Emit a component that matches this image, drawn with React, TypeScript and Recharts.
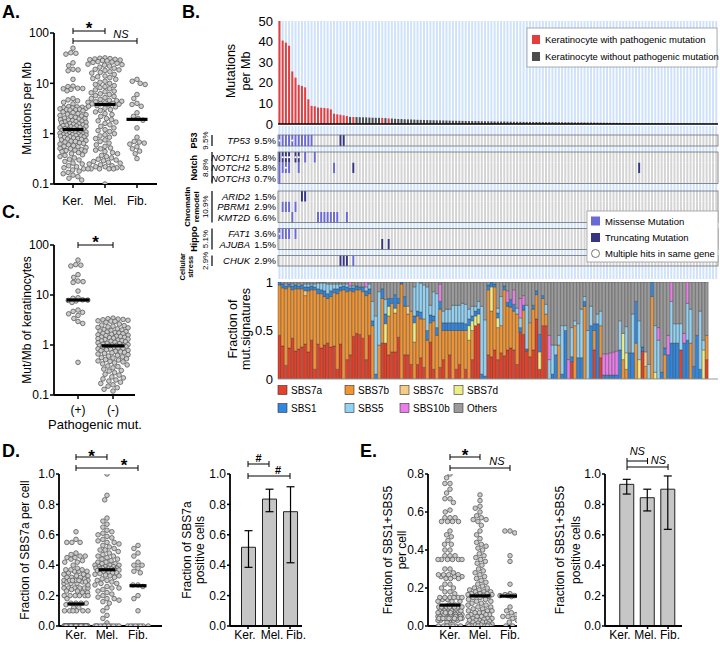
import React from 'react';
import { BarChart, Bar, XAxis, YAxis, Cell, ScatterChart, Scatter, ReferenceLine, ReferenceDot, ErrorBar } from 'recharts';

const FONT = "'Liberation Sans', Arial, Helvetica, sans-serif";

// ---------------- DATA ----------------
const cellTypes = ['Ker.', 'Mel.', 'Fib.'];
const pathogenicCats = ['(+)', '(-)'];

// Mutations per Mb of keratinocytes, in panel-B column order (sorted)
const kerMutPerMb = [
  50, 40.5, 39.5, 38, 25.5, 22.5, 19, 18.5, 17.8, 12,
  8.8, 8.6, 8, 7.9, 7.8, 7.6, 7.1, 5, 4.7, 4.5,
  4.2, 3.9, 3.45, 3.4, 3.35, 3.3, 3.25, 3.2, 3.12, 3.05,
  3.0, 2.97, 2.95, 2.85, 2.7, 2.62, 2.5, 2.44, 2.38, 2.3,
  2.24, 2.2, 2.1, 2.04, 2.0, 1.95, 1.9, 1.86, 1.82, 1.78,
  1.74, 1.71, 1.68, 1.64, 1.6, 1.57, 1.54, 1.5, 1.47, 1.44,
  1.42, 1.4, 1.37, 1.34, 1.31, 1.29, 1.26, 1.23, 1.21, 1.19,
  1.16, 1.13, 1.11, 1.08, 1.06, 1.04, 1.02, 1.0, 0.99, 0.98,
  0.96, 0.95, 0.94, 0.93, 0.92, 0.9, 0.89, 0.87, 0.86, 0.84,
  0.82, 0.8, 0.78, 0.77, 0.75, 0.73, 0.71, 0.7, 0.68, 0.66,
  0.64, 0.62, 0.6, 0.58, 0.56, 0.55, 0.53, 0.51, 0.5, 0.48,
  0.47, 0.46, 0.45, 0.44, 0.42, 0.4, 0.38, 0.37, 0.35, 0.33,
  0.31, 0.3, 0.28, 0.26, 0.25, 0.23, 0.22, 0.21, 0.2, 0.19,
  0.18, 0.17, 0.16, 0.15, 0.14, 0.13, 0.12,
];
const melMutPerMb = [
  32, 31.5, 31, 30.5, 30, 29.5, 29, 28.5, 28, 27, 26.5, 26, 25, 24, 23.5, 23, 22, 21, 20, 19,
  18.5, 18, 17, 16.5, 16, 15, 14, 13.5, 13, 12.5, 12, 11, 10.5, 10, 9.5, 9, 8.6, 8.2, 7.8, 7.4,
  7, 6.8, 6.5, 6.2, 6, 5.7, 5.5, 5.2, 5, 4.8, 4.6, 4.5, 4.4, 4.3, 4.2, 4.1, 4.0, 3.95, 3.9, 3.85,
  3.75, 3.6, 3.5, 3.4, 3.2, 3.0, 2.9, 2.7, 2.5, 2.4, 2.2, 2.0, 1.9, 1.8, 1.7, 1.6, 1.5, 1.4, 1.3, 1.2,
  1.15, 1.1, 1.0, 0.95, 0.9, 0.85, 0.8, 0.75, 0.7, 0.65, 0.6, 0.56, 0.52, 0.5, 0.47, 0.44, 0.42, 0.4, 0.37, 0.35,
  0.33, 0.31, 0.3, 0.29, 0.28, 0.27, 0.26, 0.25, 0.24, 0.23, 0.22, 0.22, 0.21, 0.21, 0.2, 0.2, 0.2, 0.2, 0.2, 0.1,
];
const fibMutPerMb = [12, 11, 10, 9.5, 6, 5, 4, 3.8, 3.5, 2.6, 2.2, 2.0, 1.85, 1.3, 0.85, 0.7, 0.68, 0.65, 0.62, 0.55, 0.5, 0.45, 0.4, 0.32];

// Oncoprint: mutated column indices per gene
const genes = ['TP53', 'NOTCH1', 'NOTCH2', 'NOTCH3', 'ARID2', 'PBRM1', 'KMT2D', 'FAT1', 'AJUBA', 'CHUK'];
const genePct = ['9.5%', '5.8%', '5.8%', '0.7%', '1.5%', '2.9%', '6.6%', '3.6%', '1.5%', '2.9%'];
const missenseCols = [
  [0, 1, 2, 3, 4, 5, 6, 7, 8, 9, 10], [8, 11], [0, 1, 2, 3, 6, 17], [0], [], [1, 2, 3, 5],
  [4, 12, 13, 14, 15, 16, 17, 18, 21], [0, 1, 2, 3, 5], [], [23],
];
const truncatingCols = [[19, 20], [0, 1, 2, 3, 5, 6], [23, 112], [], [7, 8], [], [], [], [32, 34], [19, 20, 21]];
const multiHitCols = [[0, 4], [1, 2, 3, 5, 6], [2], [], [], [], [], [0], [], []];
const pathways = ['P53', 'Notch', 'Chromatin remodel', 'Hippo', 'Cellular stress'];
const pathwayPct = ['9.5%', '8.8%', '10.9%', '5.1%', '2.9%'];
const pathwayGenes = [['TP53'], ['NOTCH1', 'NOTCH2', 'NOTCH3'], ['ARID2', 'PBRM1', 'KMT2D'], ['FAT1', 'AJUBA'], ['CHUK']];

// Mutational signature fractions per keratinocyte (panel-B column order)
const sigNames = ['SBS7a', 'SBS7b', 'SBS7c', 'SBS7d', 'SBS1', 'SBS5', 'SBS10b', 'Others'];
const sbs7a = [
  .45, .34, .14, .32, .42, .29, .31, .33, .36, .28, .40, .10, .36, .32, .35, .37, .33, .34, .10, .36,
  0, .20, .25, .44, .47, .46, .42, .20, .45, 0, 0, 0, .37, .37, .25, .28, .28, .43, 0, .25,
  .25, .15, 0, .15, .22, .12, 0, .38, .10, 0, .12, .20, 0, .25, 0, .10, .15, 0, .10, 0,
  .20, .55, .57, 0, 0, .25, .23, .30, .20, .27, .24, .30, .32, .30, .15, .48, .46, .29, .23, .30,
  .62, .10, .55, .55, 0, 0, 0, 0, 0, 0, 0, .18, 0, 0, 0, 0, 0, 0, .30, 0,
  .22, 0, 0, 0, 0, 0, 0, 0, 0, 0, 0, 0, 0, .29, 0, 0, 0, 0, 0, 0,
  0, 0, 0, 0, 0, .30, 0, 0, 0, 0, 0, 0, 0, .20,
];
const sbs7b = [
  .52, .60, .79, .63, .50, .64, .62, .60, .50, .63, .52, .82, .52, .56, .50, .46, .52, .55, .78, .55,
  .92, .70, .66, .46, .45, .46, .48, .66, .43, .55, 0, .35, .46, 0, .40, .50, .40, .35, .98, .50,
  .42, .55, .38, .50, .40, .50, .40, .20, .50, .45, .60, .30, .50, .25, .50, .40, .35, .50, .40, .40,
  .30, 0, 0, 0, 0, .67, .47, .65, .33, .28, .68, .45, .42, .40, .52, 0, .25, 0, .35, .42,
  .25, 0, .28, .12, 0, 0, 0, .35, 0, 0, 0, 0, .55, 0, 0, .75, 0, 0, .20, 0,
  .33, 0, 0, 0, 0, 0, 0, .20, .10, 0, 0, .37, 0, 0, .13, 0, .85, 0, 0, 0,
  .25, 0, 0, 0, 0, 0, 0, 0, .37, 0, 0, 0, 0, .25,
];
const sbs7c = [
  0, 0, 0, 0, 0, 0, 0, 0, .05, 0, 0, 0, 0, 0, 0, 0, 0, 0, 0, 0,
  0, 0, 0, 0, 0, 0, 0, 0, 0, 0, 0, 0, 0, 0, 0, 0, 0, 0, 0, 0,
  .08, 0, 0, 0, 0, 0, 0, 0, 0, 0, 0, 0, 0, 0, 0, 0, 0, 0, 0, 0,
  0, 0, 0, 0, 0, 0, 0, 0, 0, 0, 0, 0, 0, 0, 0, 0, 0, 0, 0, 0,
  0, 0, 0, 0, 0, 0, 0, 0, 0, 0, 0, 0, 0, 0, 0, 0, 0, 0, 0, 0,
  0, 0, 0, 0, 0, 0, 0, 0, 0, 0, 0, 0, 0, 0, .15, 0, 0, 0, 0, 0,
  0, 0, 0, 0, 0, 0, 0, 0, 0, 0, 0, 0, 0, 0,
];
const sbs7d = [
  0, 0, 0, 0, 0, 0, 0, 0, 0, 0, 0, 0, 0, 0, 0, 0, 0, 0, 0, 0,
  0, 0, 0, 0, 0, 0, 0, 0, 0, 0, 0, 0, 0, .20, .10, 0, .05, 0, 0, 0,
  0, 0, .20, 0, 0, 0, 0, 0, 0, 0, 0, 0, 0, 0, 0, 0, 0, 0, 0, .15,
  .10, .10, .10, 0, 0, 0, .25, 0, .10, 0, 0, 0, 0, 0, 0, 0, 0, 0, 0, 0,
  0, .18, 0, 0, 0, 0, 0, 0, 0, 0, 0, 0, 0, 0, 0, 0, 0, 0, 0, 0,
  0, 0, 0, 0, 0, 0, 0, .27, .17, 0, 0, 0, .20, 0, 0, 0, 0, .07, 0, 0,
  0, 0, 0, 0, 0, 0, 0, 0, 0, 0, 0, 0, .30, 0,
];
const sbs1 = [
  .03, .04, .03, .03, .04, .04, .03, .04, .04, .04, .04, .03, .05, .04, .06, .05, .06, .04, .05, .04,
  .04, .05, .03, .04, .04, .03, .05, .05, .05, .05, .05, 0, .10, .10, .08, .05, .14, .05, .02, .10,
  0, 0, .07, .05, .07, 0, .10, .08, .05, .08, .08, .08, .08, .08, .08, .08, .08, .08, .07, .07,
  .05, .05, .05, .05, .03, .05, .05, .03, .05, 0, .04, .04, .08, .07, 0, .05, .05, .02, 0, .04,
  .04, .18, .03, 0, 0, .05, .25, 0, .05, .50, 0, .05, 0, .22, .22, .05, 0, .55, .07, .57,
  0, .04, .04, .04, .04, .04, .30, 0, 0, .27, .27, .43, 0, .04, 0, 0, .15, 0, 0, .07,
  .07, .25, .37, .37, .37, 0, .37, .40, 0, .13, .45, .10, 0, 0,
];
const sbs5 = [
  0, 0, .02, 0, .02, 0, .02, 0, .03, .03, .02, .03, .06, .07, .08, .10, .07, .05, .05, .03,
  .02, .03, .02, .02, 0, 0, 0, .04, .05, .20, .60, .55, 0, .15, 0, 0, 0, 0, 0, 0,
  0, 0, .30, .30, .30, .35, .45, .10, .25, .35, 0, .12, .14, .14, .18, .18, .18, .20, .20, .10,
  .10, .05, .08, .70, .58, 0, 0, 0, .05, .30, 0, 0, 0, 0, .06, .10, 0, .45, 0, 0,
  0, 0, 0, .10, .20, .30, .10, .10, .50, .05, 0, .30, .05, .35, .50, .05, .50, .20, 0, .10,
  .15, 0, 0, 0, 0, 0, .30, 0, .27, 0, .40, 0, .40, 0, 0, .15, 0, .48, .40, 0,
  0, 0, .43, .20, .20, .27, 0, .38, .35, 0, 0, .60, .10, 0,
];
const sbs10b = [
  0, 0, 0, 0, 0, 0, 0, 0, 0, 0, 0, 0, 0, 0, 0, 0, 0, 0, 0, 0,
  0, 0, .04, 0, 0, 0, 0, .05, 0, 0, 0, 0, 0, 0, 0, 0, 0, 0, 0, 0,
  0, 0, 0, 0, 0, 0, 0, 0, 0, 0, .18, 0, 0, 0, 0, 0, 0, 0, 0, 0,
  0, 0, 0, 0, 0, 0, 0, 0, 0, 0, 0, .12, 0, .15, 0, .20, .10, 0, 0, 0,
  0, 0, 0, 0, .25, 0, 0, 0, 0, 0, .20, 0, 0, 0, 0, 0, 0, 0, 0, 0,
  0, .22, .22, .23, .24, .25, 0, 0, 0, 0, 0, 0, 0, 0, 0, 0, 0, 0, .13, 0,
  0, .20, .20, 0, 0, 0, .10, .22, 0, 0, 0, 0, 0, 0,
];

// Panel D / E per-cell fractions for melanocytes and fibroblasts
const sbs7aMel = [
  1.0, 0.86, 0.83, 0.71, 0.69, 0.67, 0.65, 0.63, 0.62, 0.61, 0.6, 0.59, 0.58, 0.57, 0.56, 0.55, 0.55, 0.54, 0.53, 0.52,
  0.51, 0.5, 0.5, 0.49, 0.48, 0.47, 0.46, 0.46, 0.45, 0.44, 0.44, 0.43, 0.42, 0.42, 0.41, 0.41, 0.4, 0.4, 0.4, 0.39,
  0.39, 0.39, 0.38, 0.38, 0.38, 0.38, 0.375, 0.375, 0.372, 0.372,
  0.368, 0.365, 0.36, 0.355, 0.35, 0.35, 0.345, 0.34, 0.335, 0.33, 0.33, 0.32, 0.31, 0.3, 0.3, 0.29, 0.28, 0.28, 0.27, 0.26,
  0.25, 0.25, 0.24, 0.23, 0.22, 0.21, 0.2, 0.19, 0.18, 0.18, 0.17, 0.16, 0.15, 0.12, 0.1, 0.07, 0.05, 0.02,
  0, 0, 0, 0, 0, 0, 0, 0, 0, 0, 0, 0,
];
const sbs7aFib = [0.53, 0.51, 0.48, 0.46, 0.42, 0.4, 0.4, 0.38, 0.36, 0.35, 0.27, 0.27, 0.26, 0.2, 0.18, 0.1, 0, 0, 0, 0, 0, 0, 0, 0];
const sbs15Mel = [
  0.69, 0.66, 0.63, 0.62, 0.6, 0.58, 0.57, 0.56, 0.56, 0.55, 0.53, 0.5, 0.48, 0.46, 0.44, 0.43, 0.42, 0.41, 0.4, 0.38,
  0.37, 0.36, 0.35, 0.34, 0.33, 0.32, 0.3, 0.29, 0.28, 0.27, 0.26, 0.25, 0.24, 0.23, 0.22, 0.21, 0.2, 0.2, 0.19, 0.19,
  0.18, 0.18, 0.18, 0.17, 0.17, 0.17, 0.165, 0.165, 0.162, 0.162,
  0.155, 0.15, 0.15, 0.14, 0.14, 0.13, 0.13, 0.12, 0.12, 0.11, 0.11, 0.1, 0.1, 0.09, 0.09, 0.08, 0.08, 0.08, 0.07, 0.07,
  0.07, 0.06, 0.06, 0.06, 0.05, 0.05, 0.05, 0.04, 0.04, 0.04, 0.035, 0.03, 0.03, 0.03, 0.025, 0.02, 0.02, 0.02, 0.015, 0.01,
  0.01, 0.01, 0.005, 0.005, 0, 0, 0, 0, 0, 0,
];
const sbs15Fib = [0.5, 0.5, 0.49, 0.37, 0.34, 0.22, 0.17, 0.165, 0.16, 0.16, 0.16, 0.16, 0.155, 0.1, 0.08, 0.07, 0.06, 0.05, 0.05, 0.04, 0.03, 0.02, 0, 0];

// Fraction of signature-positive cells (estimate, lower CI, upper CI)
const sbs7aPos = [0.518, 0.835, 0.752];
const sbs7aPosLow = [0.386, 0.752, 0.416];
const sbs7aPosHigh = [0.627, 0.90, 0.916];
const sbs15Pos = [0.932, 0.844, 0.90];
const sbs15PosLow = [0.868, 0.757, 0.636];
const sbs15PosHigh = [0.965, 0.90, 0.987];

// ---------------- STYLE / LAYOUT ----------------
const C_RED = '#e33d3d';
const C_DARK = '#4d4d4d';
const C_LBLUE = '#cfe2fb';
const C_CELL = '#d4d4d4';
const C_MIS = '#6a6ad6';
const C_TRUNC = '#363680';
const sigColors = ['#e4412a', '#ef9535', '#f6cb86', '#eded88', '#2f87df', '#93d2f2', '#e97ee8', '#9b9b9b'];

const NCOL = kerMutPerMb.length;
const PLOT_L = 278, PLOT_W = 440;

const geneStatus = genes.map((_, g) => {
  const s = new Array(NCOL).fill(0);
  missenseCols[g].forEach((c) => (s[c] = 1));
  truncatingCols[g].forEach((c) => (s[c] = 2));
  return s;
});
const pathogenic = new Array(NCOL).fill(false).map((_, i) => geneStatus.some((s) => s[i] > 0));

const ONCO_TOP = 126;
const oncoLayout = [
  { k: 'gap0', h: 9 }, { k: 'TP53', h: 11 }, { k: 'gap1', h: 6 },
  { k: 'NOTCH1', h: 10.5 }, { k: 'NOTCH2', h: 10.5 }, { k: 'NOTCH3', h: 10.5 }, { k: 'gap2', h: 7.5 },
  { k: 'ARID2', h: 10.5 }, { k: 'PBRM1', h: 10.5 }, { k: 'KMT2D', h: 10.5 }, { k: 'gap3', h: 6 },
  { k: 'FAT1', h: 10.5 }, { k: 'AJUBA', h: 10.5 }, { k: 'gap4', h: 6 },
  { k: 'CHUK', h: 10.5 }, { k: 'gap5', h: 13 },
];
const ONCO_H = oncoLayout.reduce((a, s) => a + s.h, 0);
const rowPos: Record<string, { top: number; bot: number; mid: number }> = {};
{
  let y = ONCO_TOP;
  oncoLayout.forEach((s) => { rowPos[s.k] = { top: y, bot: y + s.h, mid: y + s.h / 2 }; y += s.h; });
}

type Cfg = {
  left: number; top: number; w: number; h: number; xd: [number, number]; yd: [number, number];
  log?: boolean; yticks: number[]; yfmt: (v: number) => string; cats: string[];
  yw: number; mt: number; mr: number; xh: number; ytS: number; ytM: number; xtS: number; xtM: number; xdx?: number[];
};

function valToPy(c: Cfg, v: number) {
  let t;
  if (c.log) {
    const a = Math.log10(c.yd[0]), b = Math.log10(c.yd[1]);
    t = (b - Math.log10(Math.max(v, c.yd[0]))) / (b - a);
  } else t = (c.yd[1] - v) / (c.yd[1] - c.yd[0]);
  return c.top + t * c.h;
}
function pyToVal(c: Cfg, py: number) {
  const t = (py - c.top) / c.h;
  if (c.log) {
    const a = Math.log10(c.yd[0]), b = Math.log10(c.yd[1]);
    return Math.pow(10, b - t * (b - a));
  }
  return c.yd[1] - t * (c.yd[1] - c.yd[0]);
}
const ppu = (c: Cfg) => c.w / (c.xd[1] - c.xd[0]);
const pxToVal = (c: Cfg, px: number) => c.xd[0] + (px - c.left) / ppu(c);

function median(a: number[]) {
  const s = [...a].sort((x, y) => x - y);
  const n = s.length;
  return n % 2 ? s[(n - 1) / 2] : (s[n / 2 - 1] + s[n / 2]) / 2;
}

// beeswarm layout in pixel space (layout only, derived from the values)
function swarm(values: number[], c: Cfg, d: number, maxHalf: number) {
  const order = values.map((_, i) => i).sort((a, b) => values[b] - values[a]);
  const placed: { x: number; y: number }[] = [];
  const off = new Array(values.length).fill(0);
  for (const i of order) {
    const y = valToPy(c, values[i]);
    const near = placed.filter((p) => Math.abs(p.y - y) < d);
    const cands = [0];
    near.forEach((p) => {
      const dx = Math.sqrt(Math.max(0, d * d - (p.y - y) ** 2));
      cands.push(p.x + dx, p.x - dx);
    });
    cands.sort((a, b) => Math.abs(a) - Math.abs(b) || a - b);
    let best: number | null = null;
    for (const cx of cands) {
      if (Math.abs(cx) > maxHalf + 0.01) break;
      if (near.every((p) => (p.x - cx) ** 2 + (p.y - y) ** 2 >= d * d - 0.05)) { best = cx; break; }
    }
    if (best === null) {
      let bs = -1; best = 0;
      for (let k = -maxHalf; k <= maxHalf + 1e-6; k += 0.5) {
        const sc = Math.min(...near.map((p) => (p.x - k) ** 2 + (p.y - y) ** 2));
        if (sc > bs + 1e-6 || (Math.abs(sc - bs) < 1e-6 && Math.abs(k) < Math.abs(best))) { bs = sc; best = k; }
      }
    }
    placed.push({ x: best, y });
    off[i] = best;
  }
  return off;
}

type Br = { x1: number; x2: number; py: number; label: string; lx?: number; ly: number; size: number; italic?: boolean; bold?: boolean };
function bracketEls(c: Cfg, b: Br, k: string) {
  const y = pyToVal(c, b.py), yU = pyToVal(c, b.py - 3), yL = pyToVal(c, b.py + 3);
  return [
    <ReferenceLine key={k + 'h'} segment={[{ x: b.x1, y }, { x: b.x2, y }]} ifOverflow="visible" stroke="#000" strokeWidth={1} />,
    <ReferenceLine key={k + 'l'} segment={[{ x: b.x1, y: yU }, { x: b.x1, y: yL }]} ifOverflow="visible" stroke="#000" strokeWidth={1} />,
    <ReferenceLine key={k + 'r'} segment={[{ x: b.x2, y: yU }, { x: b.x2, y: yL }]} ifOverflow="visible" stroke="#000" strokeWidth={1} />,
    <ReferenceDot key={k + 't'} x={b.lx ?? (b.x1 + b.x2) / 2} y={pyToVal(c, b.ly)} r={0} ifOverflow="visible" fill="none" stroke="none"
      label={{ value: b.label, position: 'center', fontSize: b.size, fill: '#000', fontFamily: FONT, fontStyle: b.italic ? 'italic' : 'normal', fontWeight: b.bold ? 'bold' : 'normal' }} />,
  ];
}

const tickStyle = { fontSize: 12, fill: '#000', fontFamily: FONT };
const axisLine = { stroke: '#000', strokeWidth: 1.8 };
const tickLine = { stroke: '#000', strokeWidth: 1.5 };

function xAxisFor(c: Cfg) {
  const tick = c.xdx
    ? (p: any) => (
        <text x={p.x + (c.xdx as number[])[p.index]} y={p.y} dy="0.71em" textAnchor="middle" fontSize={12} fontFamily={FONT} fill="#000">
          {c.cats[Math.round(p.payload.value) - 1]}
        </text>
      )
    : tickStyle;
  return (
    <XAxis type="number" dataKey="x" domain={c.xd} allowDataOverflow ticks={c.cats.map((_, i) => i + 1)} interval={0}
      tickFormatter={(v: number) => c.cats[Math.round(v) - 1]} height={c.xh} axisLine={axisLine} tickLine={tickLine}
      tickSize={c.xtS} tickMargin={c.xtM} tick={tick} />
  );
}
function yAxisFor(c: Cfg) {
  return (
    <YAxis type="number" dataKey="y" domain={c.yd} allowDataOverflow scale={c.log ? 'log' : 'linear'} ticks={c.yticks} interval={0}
      tickFormatter={c.yfmt} width={c.yw} axisLine={axisLine} tickLine={tickLine} tickSize={c.ytS} tickMargin={c.ytM} tick={tickStyle} />
  );
}

const dotShape = (p: any) => <circle cx={p.cx} cy={p.cy} r={2.3} fill="#cbcbcb" stroke="#5a5a5a" strokeWidth={0.8} />;

function ScatterPanel({ c, groups, medHalfPx, maxHalf, brackets }: { c: Cfg; groups: number[][]; medHalfPx: number; maxHalf: number[]; brackets: Br[] }) {
  const u = ppu(c);
  const pts: { x: number; y: number }[] = [];
  groups.forEach((vals, g) => {
    const off = swarm(vals, c, 5.1, maxHalf[g]);
    vals.forEach((v, i) => pts.push({ x: g + 1 + off[i] / u, y: v }));
  });
  const meds = groups.map((vals, g) => ({ x: g + 1, y: median(vals) }));
  const medShape = (p: any) => (
    <line x1={p.cx - medHalfPx} x2={p.cx + medHalfPx} y1={p.cy} y2={p.cy} stroke="#000" strokeWidth={3.2} />
  );
  return (
    <div style={{ position: 'absolute', left: c.left - c.yw, top: c.top - c.mt }}>
      <ScatterChart width={c.yw + c.w + c.mr} height={c.mt + c.h + c.xh} margin={{ top: c.mt, right: c.mr, bottom: 0, left: 0 }}>
        {xAxisFor(c)}
        {yAxisFor(c)}
        <Scatter data={pts} isAnimationActive={false} shape={dotShape} />
        <Scatter data={meds} isAnimationActive={false} shape={medShape} />
        {brackets.flatMap((b, i) => bracketEls(c, b, 'b' + i))}
      </ScatterChart>
    </div>
  );
}

function BarPanel({ c, vals, lo, hi, brackets }: { c: Cfg; vals: number[]; lo: number[]; hi: number[]; brackets: Br[] }) {
  const data = vals.map((v, i) => ({ x: i + 1, y: v, err: [v - lo[i], hi[i] - v] }));
  return (
    <div style={{ position: 'absolute', left: c.left - c.yw, top: c.top - c.mt }}>
      <BarChart width={c.yw + c.w + c.mr} height={c.mt + c.h + c.xh} data={data} margin={{ top: c.mt, right: c.mr, bottom: 0, left: 0 }}>
        {xAxisFor(c)}
        {yAxisFor(c)}
        <Bar dataKey="y" fill="#c6c6c6" stroke="#222" strokeWidth={1} barSize={14} isAnimationActive={false}>
          <ErrorBar dataKey="err" width={4} stroke="#000" strokeWidth={1.2} direction="y" />
        </Bar>
        {brackets.flatMap((b, i) => bracketEls(c, b, 'b' + i))}
      </BarChart>
    </div>
  );
}

const f1 = (v: number) => v.toFixed(1);
const logFmt = (v: number) => String(v);

const cfgA: Cfg = { left: 54, top: 33, w: 103, h: 151, xd: [0.406, 3.625], yd: [0.1, 100], log: true, yticks: [0.1, 1, 10, 100], yfmt: logFmt, cats: cellTypes, yw: 54, mt: 33, mr: 4, xh: 30, ytS: 4, ytM: 1, xtS: 4, xtM: 8 };
const cfgC: Cfg = { left: 54, top: 245, w: 81, h: 150, xd: [0.314, 2.628], yd: [0.1, 100], log: true, yticks: [0.1, 1, 10, 100], yfmt: logFmt, cats: pathogenicCats, yw: 54, mt: 22, mr: 4, xh: 26, ytS: 4, ytM: 1, xtS: 4, xtM: 6 };
const cfgD1: Cfg = { left: 59, top: 474, w: 103, h: 152, xd: [0.452, 3.774], yd: [0, 1], yticks: [0, 0.2, 0.4, 0.6, 0.8, 1.0], yfmt: f1, cats: cellTypes, yw: 50, mt: 30, mr: 4, xh: 20, ytS: 3, ytM: 1, xtS: 3, xtM: 1 };
const cfgD2: Cfg = { left: 230, top: 474, w: 72, h: 152, xd: [0.143, 3.57], yd: [0, 1], yticks: [0, 0.2, 0.4, 0.6, 0.8, 1.0], yfmt: f1, cats: cellTypes, yw: 30, mt: 30, mr: 12, xh: 20, ytS: 3, ytM: 1, xtS: 3, xtM: 1, xdx: [-3, 3, 6] };
const cfgE1: Cfg = { left: 428, top: 474, w: 89, h: 152, xd: [0.267, 3.233], yd: [0, 0.8], yticks: [0, 0.2, 0.4, 0.6, 0.8], yfmt: f1, cats: cellTypes, yw: 30, mt: 30, mr: 4, xh: 20, ytS: 3, ytM: 1, xtS: 3, xtM: 1 };
const cfgE2: Cfg = { left: 605, top: 474, w: 77, h: 152, xd: [-0.073, 3.68], yd: [0, 1], yticks: [0, 0.2, 0.4, 0.6, 0.8, 1.0], yfmt: f1, cats: cellTypes, yw: 30, mt: 30, mr: 12, xh: 20, ytS: 3, ytM: 1, xtS: 3, xtM: 1, xdx: [-7, -2, 2] };

const kerSBS7a = sbs7a;
const kerSBS15 = sbs1.map((v, i) => +(v + sbs5[i]).toFixed(2));
const cPlus = kerMutPerMb.filter((_, i) => pathogenic[i]);
const cMinus = kerMutPerMb.filter((_, i) => !pathogenic[i]);

// ---------------- PANEL B ----------------
const topData = kerMutPerMb.map((v, i) => ({ i, v }));
const oncoData = kerMutPerMb.map((_, i) => {
  const o: any = { i };
  oncoLayout.forEach((s) => (o[s.k] = s.h));
  return o;
});
const sigArrays = [sbs7a, sbs7b, sbs7c, sbs7d, sbs1, sbs5, sbs10b];
const sigData = kerMutPerMb.map((_, i) => {
  const o: any = { i };
  if (i < sbs7a.length) {
    let s = 0;
    sigArrays.forEach((arr, k) => { o[sigNames[k]] = arr[i]; s += arr[i]; });
    o.Others = Math.max(0, +(1 - s).toFixed(3));
  }
  return o;
});

const makeOncoShape = (key: string) => (p: any) => {
  const g = genes.indexOf(key);
  const col = p.payload && p.payload.i !== undefined ? p.payload.i : p.index;
  let fill = C_LBLUE;
  let multi = false;
  if (g >= 0) {
    const st = geneStatus[g][col];
    fill = st === 1 ? C_MIS : st === 2 ? C_TRUNC : C_CELL;
    multi = multiHitCols[g].includes(col);
  }
  return (
    <g>
      <rect x={p.x} y={p.y} width={p.width} height={p.height} fill={fill} />
      {multi ? <circle cx={p.x + p.width / 2} cy={p.y + p.height / 2} r={1.1} fill="#fff" /> : null}
    </g>
  );
};

function PanelB() {
  const bTick = { fontSize: 13, fill: '#000', fontFamily: FONT };
  const M = 9;
  return (
    <>
      <div style={{ position: 'absolute', left: PLOT_L - 30, top: 21 - M }}>
        <BarChart width={30 + PLOT_W} height={M + 103 + M} data={topData} margin={{ top: M, right: 0, bottom: 0, left: 0 }} barCategoryGap="14%">
          <XAxis dataKey="i" type="category" tick={false} tickLine={false} height={M} axisLine={{ stroke: '#000', strokeWidth: 1.5 }} />
          <YAxis type="number" domain={[0, 50]} allowDataOverflow ticks={[0, 10, 20, 30, 40, 50]} interval={0} width={30} axisLine={false} tickLine={false} tickSize={3} tickMargin={2} tick={bTick} />
          <Bar dataKey="v" background={{ fill: C_LBLUE }} isAnimationActive={false}>
            {topData.map((d) => <Cell key={d.i} fill={pathogenic[d.i] ? C_RED : C_DARK} />)}
          </Bar>
        </BarChart>
      </div>
      <div style={{ position: 'absolute', left: PLOT_L, top: ONCO_TOP }}>
        <BarChart width={PLOT_W} height={ONCO_H} data={oncoData} margin={{ top: 0, right: 0, bottom: 0, left: 0 }} barCategoryGap="14%">
          <XAxis dataKey="i" type="category" hide />
          <YAxis type="number" hide domain={[0, ONCO_H]} allowDataOverflow />
          {[...oncoLayout].reverse().map((s) => (
            <Bar key={s.k} dataKey={s.k} stackId="o" isAnimationActive={false} shape={makeOncoShape(s.k)} />
          ))}
        </BarChart>
      </div>
      <div style={{ position: 'absolute', left: PLOT_L - 30, top: 282 - M }}>
        <BarChart width={30 + PLOT_W} height={M + 97 + M} data={sigData} margin={{ top: M, right: 0, bottom: 0, left: 0 }} barCategoryGap={0}>
          <XAxis dataKey="i" type="category" tick={false} tickLine={false} height={M} axisLine={{ stroke: '#999', strokeWidth: 1 }} />
          <YAxis type="number" domain={[0, 1]} allowDataOverflow ticks={[0, 0.5, 1]} interval={0} width={30} axisLine={false} tickLine={false} tickSize={3} tickMargin={2} tick={bTick} />
          {sigNames.map((n, k) => (
            <Bar key={n} dataKey={n} stackId="s" fill={sigColors[k]} stroke="#2b2b2b" strokeWidth={0.35} isAnimationActive={false} />
          ))}
        </BarChart>
      </div>
    </>
  );
}

// ---------------- OVERLAY TEXT ----------------
const VText = ({ x, y, size = 12, weight = 'normal', children }: any) => (
  <text x={x} y={y} transform={`rotate(-90 ${x} ${y})`} textAnchor="middle" dominantBaseline="central" fontSize={size} fontWeight={weight}>{children}</text>
);

function Overlay() {
  const groupRects = pathwayGenes.map((gs) => ({ top: rowPos[gs[0]].top, bot: rowPos[gs[gs.length - 1]].bot }));
  const groupLabelX: number[][] = [[194], [194], [187, 196], [194], [182, 190]];
  const groupLabelSize = [9, 9, 8, 9, 7.5];
  const groupLabelDy = [0, 0, 0, 0, 6];
  return (
    <svg width={720} height={646} style={{ position: 'absolute', left: 0, top: 0, pointerEvents: 'none' }} fontFamily={FONT} fill="#000">
      {/* panel letters */}
      <text x={2} y={18} fontSize={18} fontWeight="bold">A.</text>
      <text x={182} y={18} fontSize={18} fontWeight="bold">B.</text>
      <text x={2} y={218} fontSize={18} fontWeight="bold">C.</text>
      <text x={2} y={457} fontSize={18} fontWeight="bold">D.</text>
      <text x={360} y={457} fontSize={18} fontWeight="bold">E.</text>

      {/* axis titles */}
      <VText x={27} y={108.5}>Mutations per Mb</VText>
      <VText x={27} y={320}>Mut/Mb of keratinocytes</VText>
      <text x={95} y={429} textAnchor="middle" fontSize={13}>Pathogenic mut.</text>
      <VText x={25} y={550}>Fraction of SBS7a per cell</VText>
      <VText x={187} y={550}>Fraction of SBS7a</VText>
      <VText x={200} y={550}>positive cells</VText>
      <VText x={388} y={550}>Fraction of SBS1+SBS5</VText>
      <VText x={402} y={550}>per cell</VText>
      <VText x={560} y={550}>Fraction of SBS1+SBS5</VText>
      <VText x={576} y={550}>positive cells</VText>
      <VText x={231} y={71} size={12.5}>Mutations</VText>
      <VText x={246} y={71} size={12.5}>per Mb</VText>
      <VText x={233} y={329} size={12.5}>Fraction of</VText>
      <VText x={246} y={329} size={12.5}>mut.signatures</VText>

      {/* oncoprint group outlines and labels */}
      {groupRects.map((r, i) => (
        <g key={'gr' + i}>
          <rect x={PLOT_L} y={r.top} width={PLOT_W} height={r.bot - r.top} fill="none" stroke="#707070" strokeWidth={0.8} />
          <line x1={212} x2={212} y1={r.top} y2={r.bot} stroke="#000" strokeWidth={1.2} />
          <VText x={205} y={(r.top + r.bot) / 2} size={8}>{pathwayPct[i]}</VText>
          {pathways[i].split(' ').map((w, j) => (
            <VText key={j} x={groupLabelX[i][j]} y={(r.top + r.bot) / 2 + groupLabelDy[i]} size={groupLabelSize[i]} weight="bold">{w}</VText>
          ))}
        </g>
      ))}
      {genes.map((g, i) => (
        <g key={'gl' + g}>
          <text x={250} y={rowPos[g].mid} textAnchor="end" dominantBaseline="central" fontSize={9.5} fontStyle="italic">{g}</text>
          <text x={276} y={rowPos[g].mid} textAnchor="end" dominantBaseline="central" fontSize={9.5}>{genePct[i]}</text>
        </g>
      ))}

      {/* legend: pathogenic */}
      <rect x={527} y={28} width={190} height={39} fill="#fff" stroke="#9a9a9a" strokeWidth={0.8} />
      <rect x={532} y={35} width={8} height={9} fill={C_RED} />
      <text x={545} y={39.5} dominantBaseline="central" fontSize={9.5}>Keratinocyte with pathogenic mutation</text>
      <rect x={532} y={52} width={8} height={9} fill={C_DARK} />
      <text x={545} y={56.5} dominantBaseline="central" fontSize={9.5}>Keratinocyte without pathogenic mutation</text>

      {/* legend: mutation types */}
      <rect x={587} y={211} width={131} height={51} fill="#fff" stroke="#9a9a9a" strokeWidth={0.8} />
      <rect x={591} y={216.5} width={9} height={9} fill={C_MIS} />
      <text x={605} y={221} dominantBaseline="central" fontSize={9.5}>Missense Mutation</text>
      <rect x={591} y={233} width={9} height={9} fill={C_TRUNC} />
      <text x={605} y={237.5} dominantBaseline="central" fontSize={9.5}>Truncating Mutation</text>
      <circle cx={595.5} cy={253.5} r={4} fill="#fff" stroke="#555" strokeWidth={0.8} />
      <text x={605} y={253.5} dominantBaseline="central" fontSize={9.5}>Multiple hits in same gene</text>

      {/* legend: signatures */}
      {sigNames.map((n, k) => {
        const col = k % 4, row = Math.floor(k / 4);
        const xs = [278, 345, 400, 454];
        const y = row === 0 ? 390 : 408;
        return (
          <g key={'sl' + n}>
            <rect x={xs[col]} y={y - 4.5} width={9} height={9} fill={sigColors[k]} stroke="#333" strokeWidth={0.6} />
            <text x={xs[col] + 13} y={y} dominantBaseline="central" fontSize={10}>{n}</text>
          </g>
        );
      })}
    </svg>
  );
}

export default function App() {
  return (
    <div style={{ position: 'absolute', left: 0, top: 0, width: 720, height: 646, background: '#fff', overflow: 'hidden', fontFamily: FONT }}>
      <ScatterPanel c={cfgA} groups={[kerMutPerMb, melMutPerMb, fibMutPerMb]} medHalfPx={10.5} maxHalf={[13, 17, 12]}
        brackets={[
          { x1: 1, x2: 2, py: 31, label: '*', ly: 27.5, size: 17, bold: true },
          { x1: 1, x2: 3, py: 41, label: 'NS', lx: 2.5, ly: 34.5, size: 11, italic: true },
        ]} />
      <ScatterPanel c={cfgC} groups={[cPlus, cMinus]} medHalfPx={11.5} maxHalf={[13, 15]}
        brackets={[{ x1: 1, x2: 2, py: 245, label: '*', ly: 241.5, size: 17, bold: true }]} />
      <ScatterPanel c={cfgD1} groups={[kerSBS7a, sbs7aMel, sbs7aFib]} medHalfPx={8.5} maxHalf={[12, 12, 11]}
        brackets={[
          { x1: 1, x2: 2, py: 457, label: '*', ly: 455.5, size: 17, bold: true },
          { x1: 1, x2: 3, py: 468, label: '*', lx: pxToVal(cfgD1, 124), ly: 464.5, size: 17, bold: true },
        ]} />
      <BarPanel c={cfgD2} vals={sbs7aPos} lo={sbs7aPosLow} hi={sbs7aPosHigh}
        brackets={[
          { x1: 1, x2: 2, py: 464, label: '#', ly: 458, size: 11, bold: true },
          { x1: 1, x2: 3, py: 476, label: '#', lx: pxToVal(cfgD2, 278), ly: 470, size: 11, bold: true },
        ]} />
      <ScatterPanel c={cfgE1} groups={[kerSBS15, sbs15Mel, sbs15Fib]} medHalfPx={10.5} maxHalf={[12, 12, 11]}
        brackets={[
          { x1: 1, x2: 2, py: 457, label: '*', ly: 455, size: 17, bold: true },
          { x1: 1, x2: 3, py: 468, label: 'NS', lx: pxToVal(cfgE1, 497), ly: 461.5, size: 11, italic: true },
        ]} />
      <BarPanel c={cfgE2} vals={sbs15Pos} lo={sbs15PosLow} hi={sbs15PosHigh}
        brackets={[
          { x1: 1, x2: 2, py: 461, label: 'NS', ly: 451.5, size: 11, italic: true },
          { x1: 1, x2: 3, py: 467, label: 'NS', lx: pxToVal(cfgE2, 658.5), ly: 460.5, size: 11, italic: true },
        ]} />
      <PanelB />
      <Overlay />
    </div>
  );
}
